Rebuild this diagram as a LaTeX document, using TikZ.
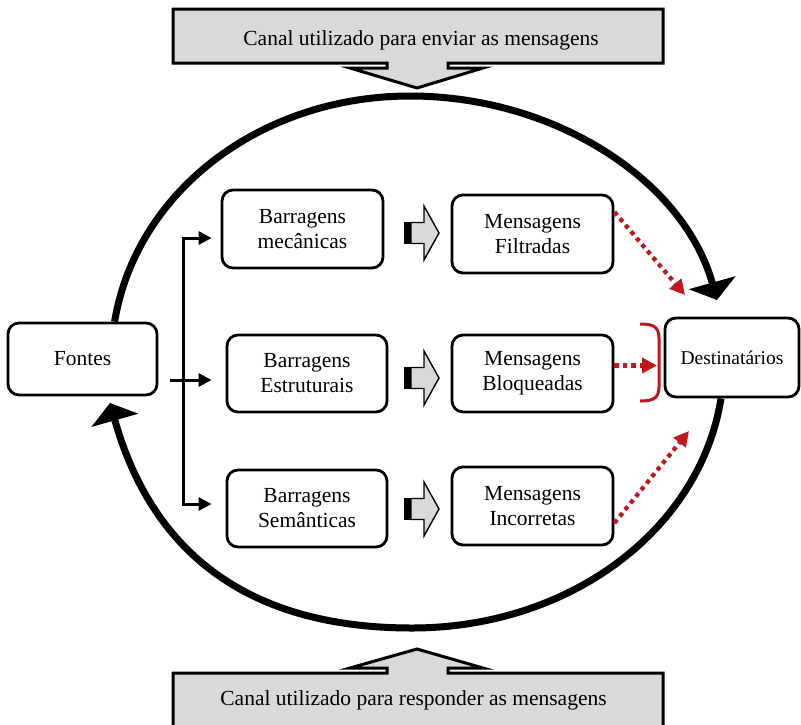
\documentclass[tikz,border=0pt]{standalone}
\usepackage{fontspec}
\setmainfont{Liberation Serif}
\usetikzlibrary{arrows.meta}
\definecolor{chgray}{RGB}{217,217,217}
\definecolor{alertred}{RGB}{192,22,30}

\begin{document}
\begin{tikzpicture}[x=1pt,y=-1pt,
  every node/.style={font=\fontsize{21.5}{25}\selectfont},
  box/.style={draw, line width=2.8pt, rounded corners=11pt, inner sep=0pt, align=center},
  link/.style={line width=3pt},
  linktip/.style={-{Triangle[length=13pt,width=13pt]}},
  bigarc/.style={line width=7pt, -{Triangle[length=18pt,width=48pt]}},
  redarrow/.style={draw=alertred, line width=4.3pt, dash pattern=on 4.3pt off 4.2pt,
                   -{Triangle[length=15pt,width=15pt]}},
  channel/.style={draw, fill=chgray, line width=3pt, line join=miter},
  barrow/.pic={
    \fill (-17.5,-11) rectangle (-10.5,11);
    \draw[fill=chgray, line width=1.4pt, line join=miter]
      (-10.5,-10.5) -- (2.5,-10.5) -- (2.5,-27) -- (17.5,0) -- (2.5,27)
      -- (2.5,10.5) -- (-10.5,10.5) -- cycle;
  },
]
\useasboundingbox (0,0) rectangle (801,724);
\clip (0,0) rectangle (801,724);

% channel banners
\draw[channel] (173,9) -- (663,9) -- (663,63) -- (448,63) -- (448,68) -- (483,68)
  -- (417,88) -- (350,68) -- (387,68) -- (387,63) -- (173,63) -- cycle;
\node[anchor=base] (send) at (421,45) {Canal utilizado para enviar as mensagens};

\draw[channel] (173,673) -- (387,673) -- (387,668) -- (350,668) -- (417,649)
  -- (483,668) -- (448,668) -- (448,673) -- (663,673) -- (663,740) -- (173,740) -- cycle;
\node[anchor=base] (reply) at (413.5,705) {Canal utilizado para responder as mensagens};

% boxes
\node[box, minimum width=149pt, minimum height=72pt] (fontes) at (82.5,359) {Fontes};
\node[box, minimum width=161pt, minimum height=78pt] (mec) at (302.5,229) {Barragens\\mecânicas};
\node[box, minimum width=160pt, minimum height=77pt] (est) at (307,373.5) {Barragens\\Estruturais};
\node[box, minimum width=160pt, minimum height=77pt] (sem) at (307,508.5) {Barragens\\Semânticas};
\node[box, minimum width=161pt, minimum height=78pt] (fil) at (532.5,234) {Mensagens\\Filtradas};
\node[box, minimum width=161pt, minimum height=77pt] (bloq) at (532.5,373.5) {Mensagens\\Bloqueadas};
\node[box, minimum width=161pt, minimum height=78pt] (inc) at (532.5,506) {Mensagens\\Incorretas};
\node[box, minimum width=134pt, minimum height=79pt, font=\fontsize{19.5}{23}\selectfont]
  (dest) at (732,357.5) {Destinatários};

% branching from the sources
\coordinate (jt) at (183,238);
\coordinate (jb) at (183,504);
\coordinate (js) at (170,380);
\draw[link, {Triangle[length=13pt,width=13pt]}-{Triangle[length=13pt,width=13pt]},
      shorten <=9pt, shorten >=14pt] (mec.west |- jt) -- (jt) -- (jb) -- (sem.west |- jb);
\draw[link, linktip, shorten >=14pt] (js) -- (est.west |- js);

% block arrows between barriers and messages
\pic at (421.5,233) {barrow};
\pic at (421.5,378) {barrow};
\pic at (421.5,509) {barrow};

% red dotted arrows towards the receivers
\coordinate (r1) at (685,295);
\coordinate (r2) at (657,365.5);
\coordinate (r3) at (689,431);
\draw[redarrow] ([yshift=22pt]fil.east) -- (r1);
\draw[redarrow] ([yshift=8pt]bloq.east) -- (r2);
\draw[redarrow] ([yshift=-17pt]inc.east) -- (r3);

% red bracket
\draw[alertred, line width=3pt] (640,324) .. controls (652,324) and (659,326) .. (659,338)
  -- (659,387) .. controls (659,399) and (652,401) .. (640,401);

% big communication loop
\coordinate (t1) at (717,300);
\coordinate (t2) at (110,403);
\draw[bigarc] ([xshift=108pt]fontes.north west) .. controls (136.6,190.2) and (262,96) .. (410,96)
  .. controls (554.8,96) and (683.7,180.4) .. (t1);
\draw[bigarc] ([xshift=-11pt]dest.south) .. controls (700.1,529.8) and (569.6,628) .. (412,628)
  .. controls (232,628) and (147.8,537.4) .. (t2);
\end{tikzpicture}
\end{document}
